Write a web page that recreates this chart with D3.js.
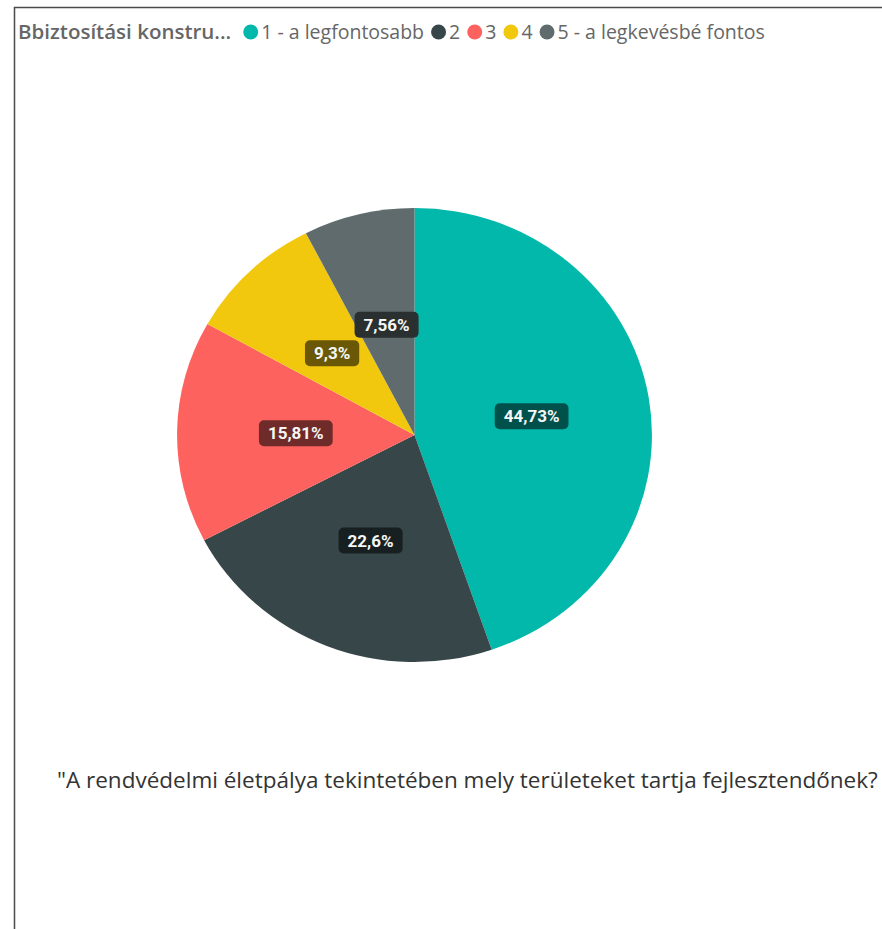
<!DOCTYPE html>
<html>
<head>
<meta charset="utf-8">
<script src="https://cdn.jsdelivr.net/npm/d3@7"></script>
<style>
  body { margin: 0; background: #fff; }
  svg { display: block; }
</style>
</head>
<body>
<svg id="chart" width="882" height="929"></svg>
<script>
// chart data
var legendTitle = "Bbiztosítási konstru...";
var categories = ["1 - a legfontosabb", "2", "3", "4", "5 - a legkevésbé fontos"];
var values = [44.73, 22.6, 15.81, 9.3, 7.56];
var colors = ["#01B8AA", "#374649", "#FD625E", "#F2C80F", "#5F6B6D"];
var caption = "\"A rendvédelmi életpálya tekintetében mely területeket tartja fejlesztendőnek?";

var svg = d3.select("#chart"),
    width = +svg.attr("width"),
    height = +svg.attr("height");

// frame of the visual (left and top edges only show)
svg.append("path")
    .attr("d", "M14.5," + height + "V7.5H" + width)
    .attr("fill", "none")
    .attr("stroke", "#4a4a4a")
    .attr("stroke-width", 1.5);

// legend
var legend = svg.append("g").attr("transform", "translate(18,32)");
var title = legend.append("text")
    .attr("x", 0)
    .attr("dy", "0.35em")
    .attr("font-family", "Open Sans, sans-serif")
    .attr("font-size", 20.5)
    .attr("font-weight", 600)
    .attr("fill", "#666")
    .text(legendTitle);

var lx = title.node().getComputedTextLength() + 12;
categories.forEach(function(c, i) {
    legend.append("circle")
        .attr("cx", lx + 7.5)
        .attr("cy", 0)
        .attr("r", 7.5)
        .attr("fill", colors[i]);
    var t = legend.append("text")
        .attr("x", lx + 18)
        .attr("dy", "0.35em")
        .attr("font-family", "Open Sans, sans-serif")
        .attr("font-size", 19.5)
        .attr("fill", "#666")
        .text(c);
    lx += 18 + t.node().getComputedTextLength() + 7;
});

// pie
var cx = 414.5, cy = 435, radius = 227, stretchX = 1.046;

var pieData = categories.map(function(c, i) {
    return {name: c, value: values[i], color: colors[i]};
});

var pie = d3.pie().sort(null).value(function(d) { return d.value; });
var arc = d3.arc().innerRadius(0).outerRadius(radius);

var arcs = pie(pieData);

var g = svg.append("g").attr("transform", "translate(" + cx + "," + cy + ")");

g.append("g")
    .attr("transform", "scale(" + stretchX + ",1)")
    .selectAll("path")
    .data(arcs)
    .enter().append("path")
    .attr("d", arc)
    .attr("fill", function(d) { return d.data.color; });

// data labels with dark boxes
var fmt = function(v) { return String(v).replace(".", ","); };
var labels = g.selectAll(".lbl")
    .data(arcs)
    .enter().append("g")
    .attr("class", "lbl")
    .attr("transform", function(d) {
        var c = arc.centroid(d);
        return "translate(" + (c[0] * stretchX) + "," + c[1] + ")";
    });

labels.each(function(d) {
    var sel = d3.select(this);
    var rect = sel.append("rect");
    var t = sel.append("text")
        .attr("text-anchor", "middle")
        .attr("dy", "0.36em")
        .attr("font-family", "Roboto, sans-serif")
        .attr("font-weight", 700)
        .attr("font-size", 17)
        .attr("fill", "#f4f7f6")
        .text(fmt(d.data.value) + "%");
    var w = t.node().getComputedTextLength() + 18;
    rect.attr("x", -w / 2)
        .attr("y", -13)
        .attr("width", w)
        .attr("height", 26)
        .attr("rx", 5)
        .attr("fill", d3.interpolateRgb(d.data.color, "#000")(0.56));
});

// caption under the chart
svg.append("text")
    .attr("x", 57)
    .attr("y", 780)
    .attr("dy", "0.35em")
    .attr("font-family", "Open Sans, sans-serif")
    .attr("font-size", 22.5)
    .attr("fill", "#333")
    .text(caption);
</script>
</body>
</html>
